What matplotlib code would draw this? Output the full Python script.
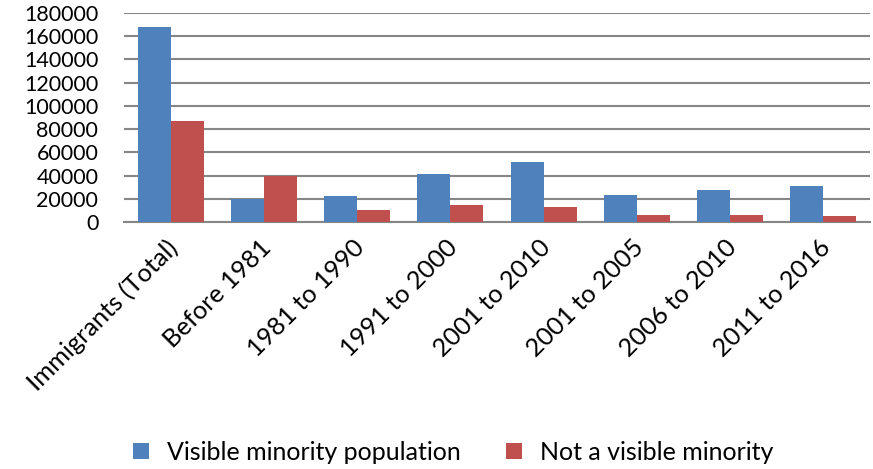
import matplotlib.pyplot as plt
import matplotlib.transforms as mtransforms
import numpy as np

plt.rcParams['font.family'] = ['Lato', 'DejaVu Sans']

categories = ['Immigrants (Total)', 'Before 1981', '1981 to 1990', '1991 to 2000',
              '2001 to 2010', '2001 to 2005', '2006 to 2010', '2011 to 2016']
visible = [168000, 20000, 22500, 41200, 51800, 23200, 27600, 31200]
not_visible = [87000, 40000, 10000, 15000, 13200, 6200, 5900, 5300]
yticks = np.arange(0, 180001, 20000)

fig = plt.figure(figsize=(8.73, 4.69), dpi=100)
ax = fig.add_axes([124 / 873, 1 - 222 / 469, 746 / 873, 209 / 469])

x = np.arange(len(categories))
w = 0.355
ax.bar(x - w / 2, visible, w, color='#4F81BD', label='Visible minority population', zorder=3)
ax.bar(x + w / 2, not_visible, w, color='#C0504D', label='Not a visible minority', zorder=3)

ax.set_xlim(-0.5, len(categories) - 0.5)
ax.set_ylim(0, 180000)
ax.set_yticks(yticks)
ax.set_yticklabels([str(v) for v in yticks], fontsize=15.5)
ax.yaxis.grid(True, color='#868686', linewidth=1.5, zorder=0)
ax.tick_params(axis='both', length=0)
ax.tick_params(axis='y', pad=18.5)
for s in ['top', 'right', 'left']:
    ax.spines[s].set_visible(False)
ax.spines['bottom'].set_color('#868686')
ax.spines['bottom'].set_linewidth(1.5)

ax.set_xticks(x)
ax.set_xticklabels(categories, rotation=45, ha='right', rotation_mode='anchor', fontsize=18.3)
ax.tick_params(axis='x', pad=10)
shift = mtransforms.ScaledTranslation(-5 / 100, 0, fig.dpi_scale_trans)
for lbl in ax.get_xticklabels():
    lbl.set_transform(lbl.get_transform() + shift)

fig.legend(loc='center left', bbox_to_anchor=(133 / 873, 1 - 452 / 469), ncol=2, frameon=False,
           fontsize=18, borderpad=0, borderaxespad=0, handlelength=0.62, handleheight=0.62,
           columnspacing=1.8, handletextpad=0.75)

fig.savefig('out.png', dpi=100)
